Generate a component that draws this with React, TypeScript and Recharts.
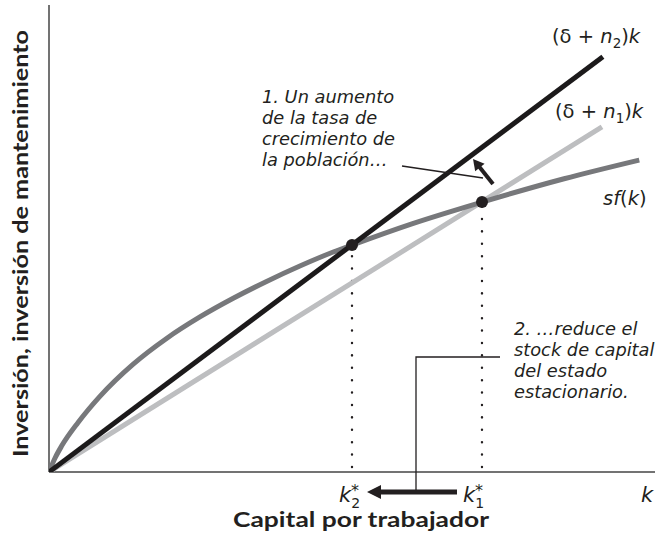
import React from 'react';
import { LineChart, Line, XAxis, YAxis, ReferenceLine, ReferenceDot } from 'recharts';

// capital per worker grid for sf(k)
const kGrid = [0, 1, 2.1, 4.8, 8.4, 13.9, 19.4, 24.9, 30.4, 35.9, 41.4, 46.9, 50, 60, 71.45, 85, 97.4];
const savingsValues = [0, 3.0, 5.6, 10.6, 16.2, 23.1, 28.6, 33.2, 37.2, 40.8, 44.1, 47.1, 48.6, 53.2, 57.8, 62.8, 66.8];

// break-even investment lines
const n2K = [0, 91.4];
const n2Values = [0, 88.9];
const n1K = [0, 91.25];
const n1Values = [0, 73.9];

// steady states
const steadyK = [50, 71.45];
const steadyValues = [48.6, 57.8];

const axisMax = 100;

const sfData = kGrid.map((k, i) => ({ k, v: savingsValues[i] }));
const n2Data = n2K.map((k, i) => ({ k, v: n2Values[i] }));
const n1Data = n1K.map((k, i) => ({ k, v: n1Values[i] }));

const FONT = 'Lato, "Open Sans", sans-serif';
const DV = '"DejaVu Sans", sans-serif';
const INK = '#231f20';

function Arrow({ x1, y1, x2, y2, w, hl, hw }: { x1: number; y1: number; x2: number; y2: number; w: number; hl: number; hw: number }) {
  const dx = x2 - x1;
  const dy = y2 - y1;
  const len = Math.sqrt(dx * dx + dy * dy);
  const ux = dx / len;
  const uy = dy / len;
  const bx = x2 - hl * ux;
  const by = y2 - hl * uy;
  const px = -uy;
  const py = ux;
  return (
    <g>
      <line x1={x1} y1={y1} x2={bx + ux} y2={by + uy} stroke={INK} strokeWidth={w} />
      <polygon
        points={`${x2},${y2} ${bx + hw * px},${by + hw * py} ${bx - hw * px},${by - hw * py}`}
        fill={INK}
      />
    </g>
  );
}

export default function App() {
  const annoStyle: React.CSSProperties = { fontFamily: DV, fontStyle: 'italic', fontSize: 17.8 };
  return (
    <div style={{ position: 'absolute', left: 0, top: 0, width: 659, height: 544, background: '#fff' }}>
      <LineChart width={659} height={544} margin={{ top: 5, right: 4, bottom: 72, left: 49 }}>
        <XAxis dataKey="k" type="number" domain={[0, axisMax]} hide allowDataOverflow />
        <YAxis type="number" domain={[0, axisMax]} hide allowDataOverflow />
        <ReferenceLine x={0} stroke="#444" strokeWidth={1.5} />
        <ReferenceLine y={0} stroke="#444" strokeWidth={1.5} />
        {steadyK.map((k, i) => (
          <ReferenceLine
            key={'d' + i}
            segment={[{ x: k, y: 0 }, { x: k, y: steadyValues[i] }]}
            stroke={INK}
            strokeWidth={2.4}
            strokeDasharray="0.1 12.3"
            strokeDashoffset={-5}
            strokeLinecap="round"
          />
        ))}
        <Line data={n1Data} dataKey="v" type="linear" stroke="#bdbec0" strokeWidth={5} dot={false} isAnimationActive={false} />
        <Line data={sfData} dataKey="v" type="monotone" stroke="#77787b" strokeWidth={5} dot={false} isAnimationActive={false} />
        <Line data={n2Data} dataKey="v" type="linear" stroke="#1c1a1b" strokeWidth={5} dot={false} isAnimationActive={false} />
        {steadyK.map((k, i) => (
          <ReferenceDot key={'p' + i} x={k} y={steadyValues[i]} r={6} fill={INK} stroke="none" />
        ))}
      </LineChart>
      <svg width={659} height={544} style={{ position: 'absolute', left: 0, top: 0, pointerEvents: 'none' }}>
        {/* axis titles */}
        <text x={361} y={527} textAnchor="middle" fontFamily={FONT} fontWeight="bold" fontSize={20} fill={INK}
          textLength={256} lengthAdjust="spacingAndGlyphs">Capital por trabajador</text>
        <text x={0} y={0} transform="translate(28,243.5) rotate(-90)" textAnchor="middle" fontFamily={FONT}
          fontWeight="bold" fontSize={20} fill={INK} textLength={427} lengthAdjust="spacingAndGlyphs">
          Inversión, inversión de mantenimiento
        </text>

        {/* curve labels */}
        <text x={552} y={43} fontFamily={DV} fontSize={19.5} fill={INK}>
          (δ + <tspan fontStyle="italic">n</tspan><tspan fontSize={13.5} dy={5}>2</tspan><tspan dy={-5}>)</tspan><tspan fontStyle="italic">k</tspan>
        </text>
        <text x={555} y={118} fontFamily={DV} fontSize={19.5} fill={INK}>
          (δ + <tspan fontStyle="italic">n</tspan><tspan fontSize={13.5} dy={5}>1</tspan><tspan dy={-5}>)</tspan><tspan fontStyle="italic">k</tspan>
        </text>
        <text x={603} y={205} fontFamily={DV} fontSize={19.5} fill={INK}>
          <tspan fontStyle="italic">sf</tspan>(<tspan fontStyle="italic">k</tspan>)
        </text>

        {/* annotation 1 */}
        <g style={annoStyle} fill={INK}>
          <text x={262} y={103}>1. Un aumento</text>
          <text x={262} y={124}>de la tasa de</text>
          <text x={262} y={145}>crecimiento de</text>
          <text x={262} y={166}>la población…</text>
        </g>
        <line x1={402} y1={166} x2={483} y2={178} stroke={INK} strokeWidth={1.3} />
        <Arrow x1={493} y1={184} x2={473} y2={159} w={4} hl={11} hw={6} />

        {/* annotation 2 */}
        <g style={annoStyle} fill={INK}>
          <text x={514} y={335}>2. …reduce el</text>
          <text x={514} y={356}>stock de capital</text>
          <text x={514} y={377}>del estado</text>
          <text x={514} y={398}>estacionario.</text>
        </g>
        <polyline points="500,357 416,357 416,492" fill="none" stroke={INK} strokeWidth={1.3} />
        <Arrow x1={457} y1={492} x2={367} y2={492} w={5} hl={14} hw={7} />

        {/* k labels */}
        <text x={339} y={502} fontFamily={DV} fontSize={21} fill={INK}>
          <tspan fontStyle="italic">k</tspan>
          <tspan fontSize={14} dy={6}>2</tspan>
          <tspan fontSize={16} dx={-9} dy={-12}>*</tspan>
        </text>
        <text x={463} y={502} fontFamily={DV} fontSize={21} fill={INK}>
          <tspan fontStyle="italic">k</tspan>
          <tspan fontSize={14} dy={6}>1</tspan>
          <tspan fontSize={16} dx={-9} dy={-12}>*</tspan>
        </text>
        <text x={641} y={502} fontFamily={DV} fontStyle="italic" fontSize={21} fill={INK}>k</text>
      </svg>
    </div>
  );
}
